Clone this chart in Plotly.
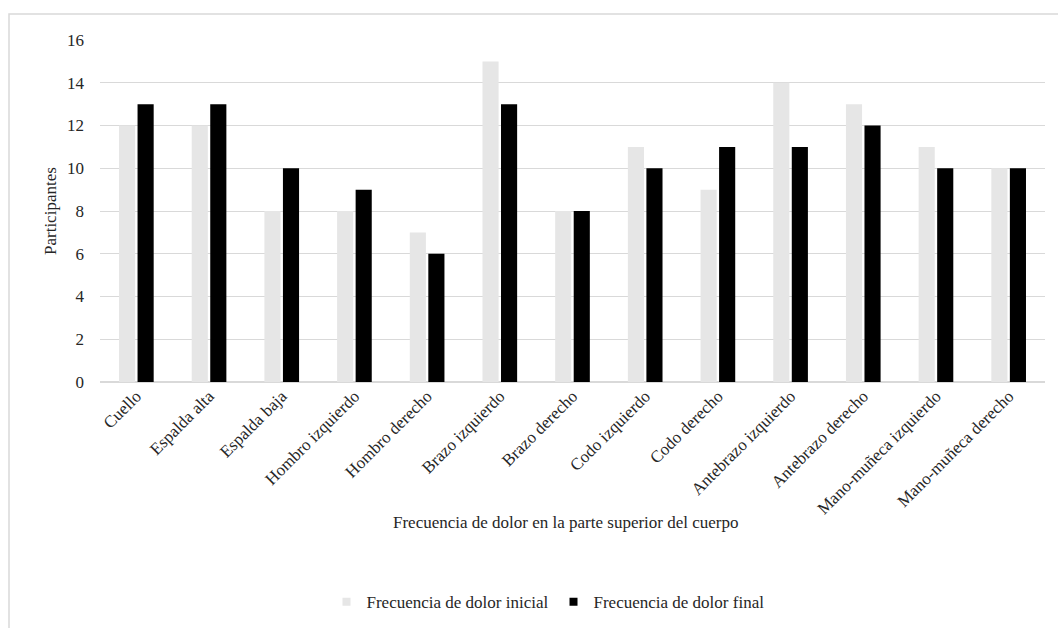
import plotly.graph_objects as go

categories = ["Cuello", "Espalda alta", "Espalda baja", "Hombro izquierdo", "Hombro derecho",
              "Brazo izquierdo", "Brazo derecho", "Codo izquierdo", "Codo derecho",
              "Antebrazo izquierdo", "Antebrazo derecho", "Mano-muñeca izquierdo",
              "Mano-muñeca derecho"]
inicial = [12, 12, 8, 8, 7, 15, 8, 11, 9, 14, 13, 11, 10]
final = [13, 13, 10, 9, 6, 13, 8, 10, 11, 11, 12, 10, 10]
series_names = ["Frecuencia de dolor inicial", "Frecuencia de dolor final"]
series_colors = ["#e6e6e6", "#000000"]

W, H = 1058, 628
L, R, T, B = 100, 13, 40, 245.5
pw = W - L - R
ph = H - T - B

font = dict(family="Liberation Serif", size=17, color="#262626")

fig = go.Figure()
for vals, name, col in zip([inicial, final], series_names, series_colors):
    fig.add_trace(go.Bar(x=categories, y=vals, name=name, showlegend=False,
                         marker=dict(color=col, line=dict(width=0))))
# legend entries with small square markers
for name, col in zip(series_names, series_colors):
    fig.add_trace(go.Scatter(x=[None], y=[None], mode="markers", name=name,
                             marker=dict(symbol="square", size=8, color=col)))

fig.update_layout(
    width=W, height=H,
    margin=dict(l=L, r=R, t=T, b=B, autoexpand=False),
    paper_bgcolor="white", plot_bgcolor="white",
    font=font,
    barmode="group", bargap=0.49, bargroupgap=0.13,
    showlegend=True,
    legend=dict(orientation="h", x=(548 - L) / pw, xanchor="center",
                y=-(603 - (T + ph)) / ph, yanchor="middle",
                font=font, traceorder="normal", itemwidth=30),
    xaxis=dict(tickangle=-45, showgrid=False, showline=False, ticks="",
               tickfont=font, automargin=False),
    yaxis=dict(range=[0, 16], dtick=2, showgrid=True, gridcolor="#d9d9d9", gridwidth=1.3,
               zeroline=True, zerolinecolor="#d9d9d9", zerolinewidth=1.5,
               showline=False, ticks="", tickfont=font, ticklabelstandoff=15,
               automargin=False),
    annotations=[
        dict(text="Frecuencia de dolor en la parte superior del cuerpo", xref="paper", yref="paper",
             x=(566 - L) / pw, y=-(523 - (T + ph)) / ph, xanchor="center", yanchor="middle",
             showarrow=False, font=font),
        dict(text="Participantes", xref="paper", yref="paper",
             x=(50 - L) / pw, y=0.5, xanchor="center", yanchor="middle", textangle=-90,
             showarrow=False, font=font),
    ],
    shapes=[
        dict(type="rect", xref="paper", yref="paper",
             x0=(9 - L) / pw, x1=(W + 20 - L) / pw,
             y0=-(H + 20 - (T + ph)) / ph, y1=(T + ph - 14) / ph,
             line=dict(color="#d9d9d9", width=1.5), fillcolor="rgba(0,0,0,0)", layer="below"),
    ],
)

fig.write_html("out.html")
